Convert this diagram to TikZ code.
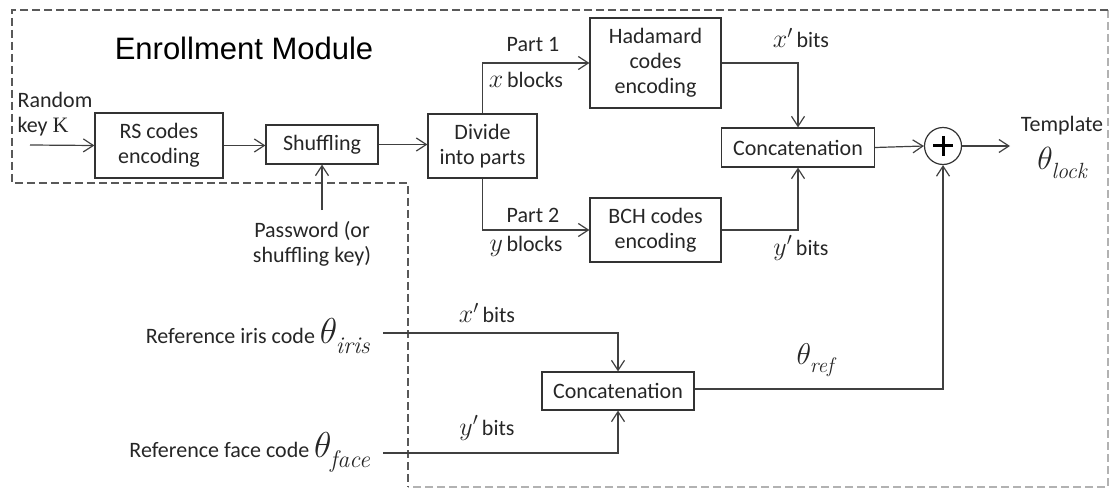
\RequirePackage{fix-cm}
\documentclass[tikz,border=0pt]{standalone}
\usepackage{fontspec}
\setmainfont{Carlito}
\newfontfamily\arialf{Liberation Sans}
\newfontfamily\tnr{Liberation Serif}
\newfontfamily\lmr{Latin Modern Roman}
\usetikzlibrary{arrows.meta,calc}
\newcommand{\mvar}[1]{{\fontsize{26}{26}\selectfont$#1$}}
\newcommand{\bigth}[3]{{\fontsize{#1}{#1}\selectfont$\theta$\kern-0.04em\raisebox{-0.28em}{\lmr\itshape\fontsize{#2}{#2}\selectfont #3}}}
\begin{document}
\begin{tikzpicture}[x=1pt,y=-1pt,
  txt/.style={font=\fontsize{22}{25}\selectfont, text=black!85, align=center, inner sep=0pt},
  box/.style={txt, draw=black!80, line width=1.2pt},
  conn/.style={draw=black!75, line width=1.2pt},
  arr/.style={conn, -{Straight Barb[length=10pt,width=13pt]}},
  dashA/.style={draw=black!65, line width=1.1pt, dash pattern=on 8pt off 4pt},
  dashB/.style={draw=black!30, line width=1.1pt, dash pattern=on 8pt off 4pt}]
\useasboundingbox (0,0) rectangle (1110,489);
% module boundary
\draw[dashB] (1108,10) -- (1108,487) -- (408,487);
\draw[dashA] (1108,10) -- (12,10) -- (12,183) -- (408,183) -- (408,487);
\node[txt, font=\arialf\fontsize{31}{31}\selectfont, text=black] (title) at (244,48) {Enrollment Module};
% boxes
\node[box, minimum width=128pt, minimum height=65pt] (rs) at (159,145.5) {RS codes\\encoding};
\node[box, minimum width=112pt, minimum height=39pt] (shuf) at (322,144.5) {Shuffling};
\node[box, minimum width=109pt, minimum height=64pt] (div) at (482.5,146) {Divide\\into parts};
\node[box, minimum width=131pt, minimum height=90pt] (had) at (655.5,63) {Hadamard\\codes\\encoding};
\node[box, minimum width=131pt, minimum height=64pt] (bch) at (655.5,230) {BCH codes\\encoding};
\node[box, minimum width=153pt, minimum height=39pt] (cat1) at (798,147.5) {Concatenation};
\node[box, minimum width=152pt, minimum height=38pt] (cat2) at (618,391) {Concatenation};
\node[draw=black!80, line width=1.2pt, circle, minimum size=37pt, inner sep=0pt] (xor) at (943,146) {};
\draw[line width=3pt, black] ($(xor.center)+(-10,0)$) -- ($(xor.center)+(10,0)$)
  ($(xor.center)+(0,-10)$) -- ($(xor.center)+(0,10)$);
% free ends
\coordinate (kin) at (30,145);
\coordinate (pw) at (322,210);
\coordinate (tout) at (1010,146);
\coordinate (iris) at (383,333);
\coordinate (face) at (383,453);
% connectors
\draw[arr] (kin) -- (rs.west);
\draw[arr] (rs.east) -- (rs.east -| shuf.west);
\draw[arr] (shuf.east) -- (shuf.east -| div.west);
\draw[arr] (pw) -- (shuf.south);
\draw[arr] (div.north) |- (had.west);
\draw[arr] (div.south) |- (bch.west);
\draw[arr] (had.east) -| (cat1.north);
\draw[arr] (bch.east) -| (cat1.south);
\draw[arr] (cat1.east) -- (xor.west);
\draw[arr] (xor.east) -- (tout);
\draw[arr] (cat2.east |- 0,389) -| (xor.south);
\draw[arr] (iris) -| (cat2.north);
\draw[arr] (face) -| (cat2.south);
% labels
\node[txt, align=left] (rk) at (55,114) {Random\\key {\tnr K}};
\node[txt] (pwl) at (312,244) {Password (or\\shuffling key)};
\node[txt] (p1) at (533,45) {Part 1};
\node[txt] (xb) at (526,80) {\mvar{x}\,blocks};
\node[txt] (p2) at (533,215) {Part 2};
\node[txt] (yb) at (526,246) {\mvar{y}\,blocks};
\node[txt] (xbt) at (801,38) {\mvar{x'}\,bits};
\node[txt] (ybt) at (801,248) {\mvar{y'}\,bits};
\node[txt] (tmp) at (1062,126) {Template};
\node[txt] (thl) at (1062,163) {\bigth{32}{22}{lock}};
\node[txt, anchor=east] (irl) at (370,336) {Reference iris code \bigth{36}{24}{iris}};
\node[txt, anchor=east] (fcl) at (370,452) {Reference face code \bigth{36}{24}{face}};
\node[txt] (xbl) at (487,313) {\mvar{x'}\,bits};
\node[txt] (ybl) at (487,428) {\mvar{y'}\,bits};
\node[txt] (thr) at (815,360) {\bigth{30}{21}{ref}};
\end{tikzpicture}
\end{document}
